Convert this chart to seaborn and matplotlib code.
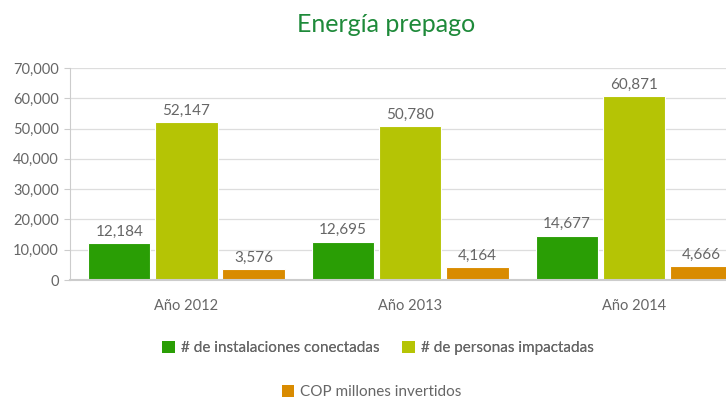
import numpy as np
import pandas as pd
import matplotlib
matplotlib.use("Agg")
import matplotlib.pyplot as plt
import seaborn as sns
from matplotlib.patches import Patch

# -----------------------------
# Data
# -----------------------------
years = ["Año 2012", "Año 2013", "Año 2014"]
series = ["# de instalaciones conectadas", "# de personas impactadas", "COP millones invertidos"]
instalaciones = [12184, 12695, 14677]
personas = [52147, 50780, 60871]
cop = [3576, 4164, 4666]
yticks = [0, 10000, 20000, 30000, 40000, 50000, 60000, 70000]

colors = ["#2A9E05", "#B5C405", "#D98B00"]
text_gray = "#666666"

df = pd.DataFrame({
    "year": years * 3,
    "serie": [series[0]] * 3 + [series[1]] * 3 + [series[2]] * 3,
    "value": instalaciones + personas + cop,
})

# -----------------------------
# Plot
# -----------------------------
sns.set_style("white")
plt.rcParams["font.family"] = ["Lato", "DejaVu Sans"]

fig = plt.figure(figsize=(7.26, 4.01), dpi=100)
W, H = 726, 401
ax = fig.add_axes([70 / W, 1 - 280 / H, (746 - 70) / W, (280 - 68) / H])

sns.barplot(data=df, x="year", y="value", hue="serie", palette=colors,
            saturation=1, width=0.9, gap=0.07, ax=ax, legend=False,
            edgecolor="white", linewidth=0.8)

for cont in ax.containers:
    ax.bar_label(cont, labels=[f"{v:,.0f}" for v in cont.datavalues],
                 padding=3, fontsize=11, color=text_gray)

ax.set_ylim(0, 70000)
ax.set_xlim(-0.52, 2.5)
ax.set_yticks(yticks)
ax.set_yticklabels([f"{v:,}" for v in yticks])
ax.yaxis.grid(True, color="#dddddd", linewidth=0.9)
ax.set_axisbelow(True)
ax.set_xlabel("")
ax.set_ylabel("")
for s in ["top", "right"]:
    ax.spines[s].set_visible(False)
ax.spines["left"].set_color("#cccccc")
ax.spines["bottom"].set_color("#cccccc")
ax.spines["bottom"].set_linewidth(1.5)
ax.tick_params(axis="y", colors=text_gray, labelsize=10.5, length=4,
               color="#cccccc", left=True, pad=4)
ax.tick_params(axis="x", colors=text_gray, labelsize=10.5, length=0, pad=14)

fig.text(386 / W, 1 - 25 / H, "Energía prepago", ha="center", va="center",
         fontsize=18, color="#1E8A3A")

handles = [Patch(facecolor=c, edgecolor="none") for c in colors]
leg1 = fig.legend(handles[:2], series[:2], loc="center", ncol=2,
                  bbox_to_anchor=(378 / W, 1 - 348 / H), frameon=False,
                  fontsize=11, handlelength=0.8, handleheight=0.8,
                  handletextpad=0.4, columnspacing=1.5, labelcolor=text_gray)
fig.add_artist(leg1)
fig.legend(handles[2:], series[2:], loc="center",
           bbox_to_anchor=(372 / W, 1 - 392 / H), frameon=False,
           fontsize=11, handlelength=0.8, handleheight=0.8,
           handletextpad=0.4, labelcolor=text_gray)

fig.savefig("out.png", dpi=100)
